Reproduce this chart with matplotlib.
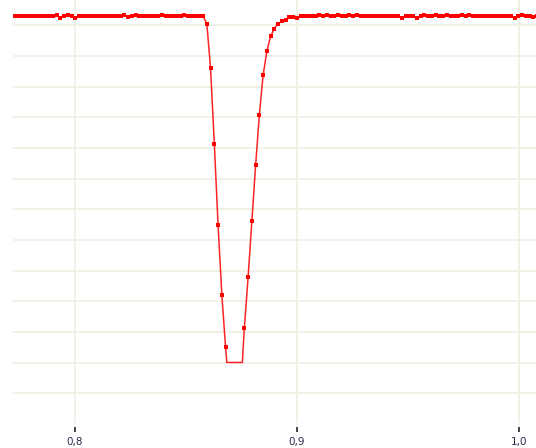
import numpy as np
import matplotlib.pyplot as plt

# sample grid (x positions of the measured points)
x_first_dip = 0.8595
x_step = 0.00169

# values left of the dip (52 points)
y_left = [1.229, 1.229, 1.229, 1.229, 1.229, 1.229, 1.229, 1.229, 1.229, 1.229,
          1.229, 1.229, 1.234, 1.224, 1.229, 1.234, 1.229, 1.223, 1.229, 1.229,
          1.229, 1.229, 1.229, 1.229, 1.229, 1.229, 1.229, 1.229, 1.229, 1.229,
          1.234, 1.228, 1.229, 1.234, 1.229, 1.229, 1.229, 1.229, 1.229, 1.229,
          1.234, 1.229, 1.229, 1.229, 1.229, 1.229, 1.234, 1.229, 1.229, 1.229,
          1.229, 1.229]

# the dip itself (nan = below display floor, not marked)
y_dip = [1.205, 1.059, 0.814, 0.548, 0.322, 0.150, np.nan, np.nan, np.nan, np.nan,
         0.214, 0.379, 0.563, 0.743, 0.908, 1.037, 1.115, 1.164, 1.189, 1.205,
         1.213, 1.218, 1.226, 1.227]

# values right of the dip (66 points)
y_right = [1.223, 1.229, 1.229, 1.229, 1.229, 1.229, 1.234, 1.229, 1.234, 1.229,
           1.229, 1.234, 1.229, 1.229, 1.234, 1.229, 1.234, 1.229, 1.229, 1.229,
           1.229, 1.229, 1.229, 1.229, 1.229, 1.229, 1.229, 1.229, 1.223, 1.229,
           1.229, 1.229, 1.224, 1.229, 1.234, 1.229, 1.229, 1.234, 1.229, 1.229,
           1.234, 1.229, 1.229, 1.229, 1.234, 1.229, 1.234, 1.229, 1.229, 1.229,
           1.229, 1.229, 1.229, 1.229, 1.229, 1.229, 1.229, 1.229, 1.223, 1.229,
           1.234, 1.229, 1.229, 1.225, 1.229, 1.229]

# where the line is flattened at the floor
floor_y = 0.101
floor_x = [0.8685, 0.8755]

xticks = [0.8, 0.9, 1.0]
xtick_labels = ["0,8", "0,9", "1,0"]
ygrid = np.arange(0, 13) * 0.1

x = x_first_dip + x_step * np.arange(-len(y_left), len(y_dip) + len(y_right))
y = np.array(y_left + y_dip + y_right)

# line path: replace the hidden run by the flat floor segment
gap = np.where(np.isnan(y))[0]
line_x = np.concatenate([x[:gap[0]], floor_x, x[gap[-1] + 1:]])
line_y = np.concatenate([y[:gap[0]], [floor_y, floor_y], y[gap[-1] + 1:]])

grid_col = "#f1efe5"

fig = plt.figure(figsize=(5.36, 4.48), dpi=100)
ax = fig.add_axes([13 / 536, 22 / 448, 523 / 536, 426 / 448])

ax.set_xlim(0.77221, 1.00775)
ax.set_ylim(-0.106, 1.282)

for gy in ygrid:
    ax.axhline(gy, color=grid_col, lw=1.3, zorder=0)
for gx in xticks:
    ax.axvline(gx, ymin=4 / 426, color=grid_col, lw=1.3, zorder=0)

ax.plot(line_x, line_y, color="#ff2424", lw=1.1, zorder=2)
ax.plot(x, y, "s", color="#ff0000", ms=2.4, mew=0, zorder=3)

ax.set_xticks(xticks)
ax.set_xticklabels(xtick_labels, fontsize=7.5, color="#2a2a4a")
ax.set_yticks([])
ax.tick_params(axis="x", length=0, pad=8)
# short dark tick marks just below the plot area
ax.vlines(xticks, -0.5 / 426, -5.5 / 426, transform=ax.get_xaxis_transform(),
          colors="#111111", lw=1.1, clip_on=False)
for s in ax.spines.values():
    s.set_visible(False)

fig.savefig("out.png", dpi=100)
